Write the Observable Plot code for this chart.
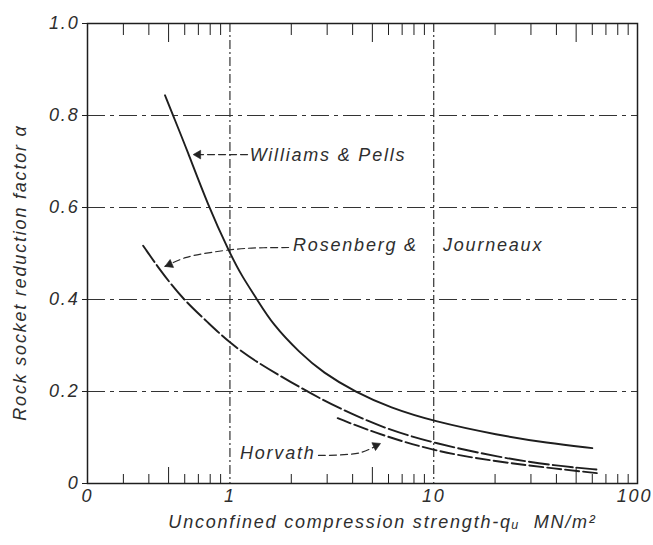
<!DOCTYPE html>
<html>
<head>
<meta charset="utf-8">
<script src="https://cdn.jsdelivr.net/npm/d3@7"></script>
<script src="https://cdn.jsdelivr.net/npm/@observablehq/plot@0.6"></script>
<style>
  html, body { margin: 0; padding: 0; background: #fff; }
  #chart svg { display: block; }
</style>
</head>
<body>
<div id="chart"></div>
<script>
// ---- Data ----
// x: unconfined compression strength q_u (MN/m^2), log scale; y: reduction factor alpha
const williamsX = [0.48, 0.526, 0.616, 0.78, 1.0, 1.14, 1.36, 1.62, 2.2, 2.86, 4.15, 6.1, 10, 20.8, 36, 60];
const williamsY = [0.844, 0.80, 0.725, 0.605, 0.50, 0.452, 0.40, 0.346, 0.284, 0.241, 0.198, 0.165, 0.135, 0.105, 0.088, 0.077];

const rosenbergX = [0.375, 0.46, 0.59, 0.78, 1.0, 1.37, 2.0, 2.86, 4.15, 6.1, 10, 20.8, 40, 65];
const rosenbergY = [0.517, 0.46, 0.40, 0.35, 0.305, 0.262, 0.22, 0.181, 0.147, 0.116, 0.088, 0.057, 0.038, 0.030];

const horvathX = [3.38, 5.0, 10, 20.8, 40, 65];
const horvathY = [0.142, 0.112, 0.070, 0.047, 0.032, 0.022];

const xTicks = [0.2, 1, 10, 100];
const xTickLabels = ["0", "1", "10", "100"];
const yTicks = [0, 0.2, 0.4, 0.6, 0.8, 1.0];
const yTickLabels = ["0", "0.2", "0.4", "0.6", "0.8", "1.0"];
const gridX = [1, 10];
const gridY = [0.2, 0.4, 0.6, 0.8];
const minorMajorX = [0.5, 5, 50];
const minorX = [0.3, 0.4, 0.6, 0.7, 0.8, 0.9, 2, 3, 4, 6, 7, 8, 9, 20, 30, 40, 60, 70, 80, 90];

const annLabels = ["Williams & Pells", "Rosenberg &", "Journeaux", "Horvath"];
const annX = [1.25, 2.04, 11.1, 1.12];
const annY = [0.713, 0.519, 0.519, 0.065];

// leader lines from each label to its curve (last point = arrow tip)
const leaderId = ["W", "W", "R", "R", "R", "R", "R", "H", "H", "H"];
const leaderX = [1.22, 0.66, 1.94, 1.19, 0.80, 0.605, 0.48, 2.72, 4.37, 5.48];
const leaderY = [0.715, 0.715, 0.513, 0.511, 0.502, 0.491, 0.472, 0.061, 0.067, 0.087];

const xTitle = "Unconfined compression strength-qᵤ  MN/m²";
const yTitle = "Rock socket reduction factor α";

// ---- Layout ----
const W = 653, H = 545;
const M = {left: 87, right: 16, top: 23, bottom: 62};
const xDomain = [0.2, 100];
const yDomain = [0, 1];

// ---- Tables built from the arrays ----
const toRows = (xs, ys) => xs.map((x, i) => ({x, y: ys[i]}));
const williams = toRows(williamsX, williamsY);
const rosenberg = toRows(rosenbergX, rosenbergY);
const horvath = toRows(horvathX, horvathY);
const annotations = annLabels.map((t, i) => ({t, x: annX[i], y: annY[i]}));
const leaders = leaderId.map((id, i) => ({id, x: leaderX[i], y: leaderY[i]}));
const xLabelMap = new Map(xTicks.map((t, i) => [t, xTickLabels[i]]));
const yLabelMap = new Map(yTicks.map((t, i) => [t, yTickLabels[i]]));

// same scales as the plot, used only to orient the arrowheads
const sx = d3.scaleLog(xDomain, [M.left, W - M.right]);
const sy = d3.scaleLinear(yDomain, [H - M.bottom, M.top]);

const ink = "#1e1e1e";
const textInk = "#2e2e2e";
const font = "Liberation Sans, Arial, sans-serif";

const headR = 3.2;
const tipDist = 2 * Math.sqrt((Math.PI * headR * headR) / (3 * Math.sqrt(3)));
const headMarks = d3.groups(leaders, d => d.id).map(([id, pts]) => {
  const a = pts[pts.length - 2], b = pts[pts.length - 1];
  const ang = Math.atan2(sy(b.y) - sy(a.y), sx(b.x) - sx(a.x));
  return Plot.dot([b], {
    x: "x", y: "y", symbol: "triangle", r: headR, fill: "#222", stroke: "#222", strokeWidth: 0.6,
    rotate: ang * 180 / Math.PI + 90,
    dx: -tipDist * Math.cos(ang), dy: -tipDist * Math.sin(ang)
  });
});

const chart = Plot.plot({
  width: W,
  height: H,
  marginLeft: M.left,
  marginRight: M.right,
  marginTop: M.top,
  marginBottom: M.bottom,
  style: {fontFamily: font, fontStyle: "italic", color: ink, background: "#fff", letterSpacing: "1.8px"},
  x: {type: "log", domain: xDomain},
  y: {domain: yDomain},
  marks: [
    Plot.ruleY(gridY, {stroke: "#333", strokeWidth: 1.2, strokeDasharray: "18,5,4,5"}),
    Plot.ruleX(gridX, {stroke: "#333", strokeWidth: 1.2, strokeDasharray: "9,3,2,3"}),
    // dashed leaders with filled heads
    Plot.line(leaders, {x: "x", y: "y", z: "id", curve: "catmull-rom", stroke: "#2a2a2a", strokeWidth: 1.2, strokeDasharray: "7,4"}),
    ...headMarks,
    Plot.frame({stroke: ink, strokeWidth: 1.5}),
    // inner minor ticks (bottom and top)
    Plot.axisX(minorX, {anchor: "bottom", tickSize: -9, tickFormat: () => "", stroke: ink, label: null}),
    Plot.axisX(minorMajorX, {anchor: "bottom", tickSize: -16, tickFormat: () => "", stroke: ink, label: null}),
    Plot.axisX(minorX, {anchor: "top", tickSize: -11, tickFormat: () => "", stroke: ink, label: null}),
    Plot.axisX(minorMajorX, {anchor: "top", tickSize: -18, tickFormat: () => "", stroke: ink, label: null}),
    // labelled axes
    Plot.axisX(xTicks.slice(0, 3), {anchor: "bottom", tickSize: 0, tickPadding: 6, tickFormat: d => xLabelMap.get(d), fontSize: 18, fill: textInk, label: null}),
    Plot.axisX(xTicks.slice(3), {anchor: "bottom", tickSize: 0, tickPadding: 6, dx: -3, tickFormat: d => xLabelMap.get(d), fontSize: 18, fill: textInk, label: null}),
    Plot.axisY(yTicks, {anchor: "left", tickSize: 5, tickPadding: 3, tickFormat: d => yLabelMap.get(d), fontSize: 18, fill: textInk, stroke: ink, label: null}),
    // curves
    Plot.line(williams, {x: "x", y: "y", curve: "basis", stroke: ink, strokeWidth: 1.9}),
    Plot.line(rosenberg, {x: "x", y: "y", curve: "basis", stroke: ink, strokeWidth: 1.9, strokeDasharray: "20,4"}),
    Plot.line(horvath, {x: "x", y: "y", curve: "basis", stroke: ink, strokeWidth: 1.9, strokeDasharray: "14,4"}),
    // annotation labels
    Plot.text(annotations, {x: "x", y: "y", text: "t", textAnchor: "start", fontSize: 18, fill: textInk}),
    // axis titles
    Plot.text([yTitle], {frameAnchor: "left", text: d => d, textAnchor: "middle", rotate: -90, dx: -67, dy: 19, fontSize: 18, fill: textInk}),
    Plot.text([xTitle], {frameAnchor: "bottom", text: d => d, textAnchor: "middle", dx: 20, dy: 44, fontSize: 18, fill: textInk})
  ]
});
document.getElementById("chart").appendChild(chart);
</script>
</body>
</html>
